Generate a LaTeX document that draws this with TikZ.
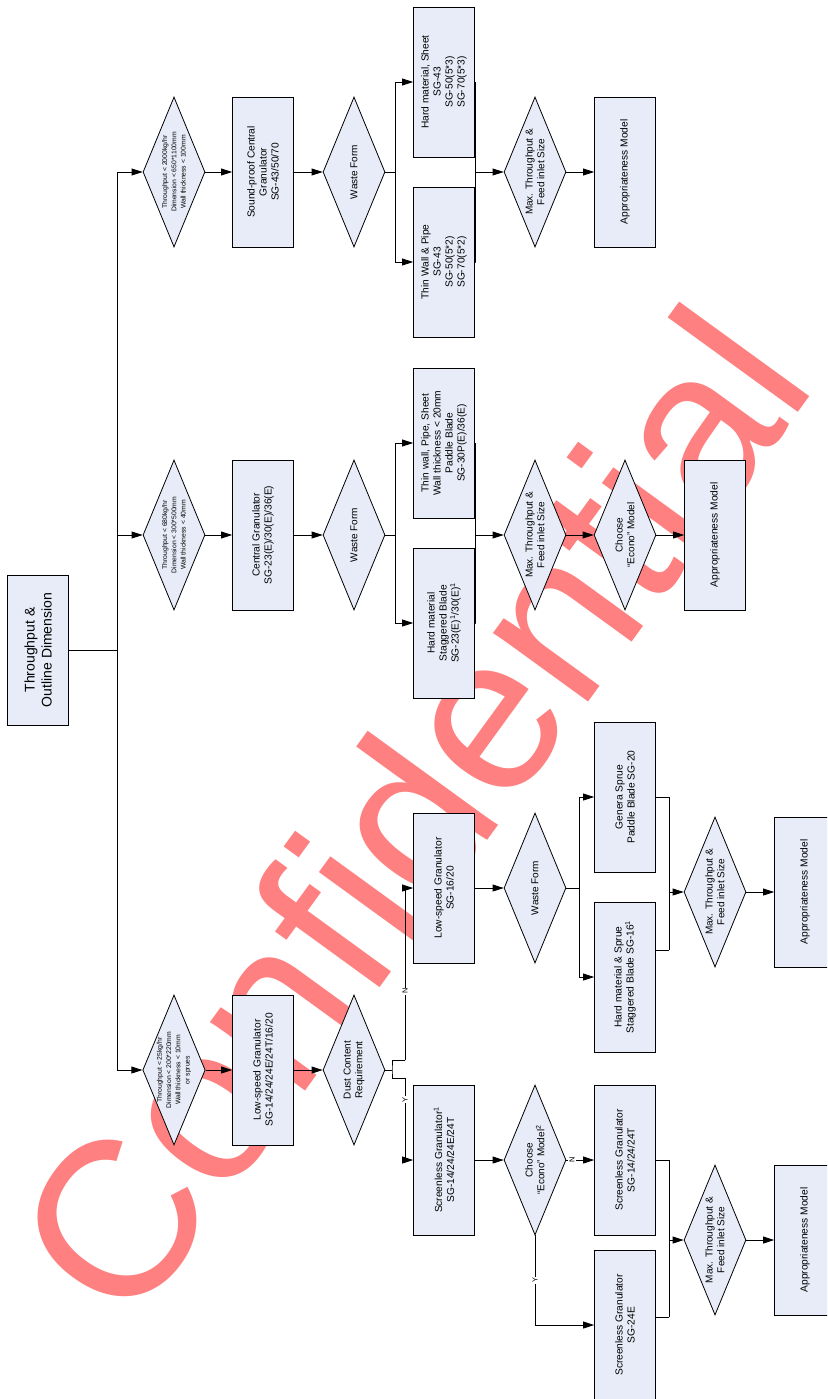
\documentclass[tikz,border=0pt]{standalone}
\usepackage{fontspec}
\setmainfont{Liberation Sans}
\usetikzlibrary{shapes.geometric,arrows.meta,positioning}
\definecolor{boxfill}{RGB}{232,236,248}
\definecolor{stampred}{RGB}{255,128,128}

\begin{document}
\begin{tikzpicture}[
    x=1pt, y=-1pt, line width=0.8pt,
    box/.style={rectangle, draw, fill=boxfill, rotate=90, align=center, minimum width=150pt, minimum height=61pt, inner sep=1pt, font=\fontsize{10.2}{12}\selectfont},
    decision/.style={diamond, draw, fill=boxfill, rotate=90, align=center, minimum width=150pt, minimum height=62pt, inner sep=-12pt, font=\fontsize{10}{11.8}\selectfont},
    smalldecision/.style={decision, font=\fontsize{6.8}{9.2}\selectfont},
    arrow/.style={->, >={Triangle[length=11pt,width=7pt]}},
    yn/.style={fill=white, inner sep=1pt, rotate=90, font=\fontsize{7.5}{7.5}\selectfont},
    stamp/.style={rotate=54, text=stampred, inner sep=0pt, font=\fontsize{222}{222}\selectfont}
  ]

  \path[use as bounding box, fill=white] (0,0) rectangle (827,1399);
  \clip (0,0) rectangle (827,1399);

  % Watermark (behind everything)
  \node[stamp] (watermark) at (410,812) {Confidential};

  % Root
  \node[box, font=\fontsize{14}{17}\selectfont] (root) at (38,650) {Throughput \&\\Outline Dimension};

  % Throughput conditions
  \node[smalldecision] (cond_2000) at (174,172) {Throughput < 2000kg/hr\\Dimension < 650*1100mm\\Wall thickness < 100mm};
  \node[smalldecision] (cond_680) at (174,535) {Throughput < 680kg/hr\\Dimension < 300*500mm\\Wall thickness < 40mm};
  \node[smalldecision] (cond_25) at (174,1070) {Throughput < 25kg/hr\\Dimension < 200*220mm\\Wall thickness < 10mm\\or sprues};

  % Granulator families
  \node[box] (sg_central_sp) at (263,172) {Sound-proof Central\\Granulator\\SG-43/50/70};
  \node[box] (sg_central) at (263,535) {Central Granulator\\SG-23(E)/30(E)/36(E)};
  \node[box] (sg_lowspeed) at (263,1070) {Low-speed Granulator\\SG-14/24/24E/24T/16/20};

  \node[decision] (waste_a) at (354,172) {Waste Form};
  \node[decision] (waste_b) at (354,535) {Waste Form};
  \node[decision] (dust) at (354,1070) {Dust Content\\Requirement};

  % Sound-proof branch
  \node[box] (hard_sheet) at (444,82) {Hard material, Sheet\\SG-43\\SG-50(5*3)\\SG-70(5*3)};
  \node[box] (thin_pipe) at (444,262) {Thin Wall \& Pipe\\SG-43\\SG-50(5*2)\\SG-70(5*2)};
  \node[decision] (max_a) at (535,172) {Max. Throughput \&\\Feed inlet Size};
  \node[box] (model_a) at (625,172) {Appropriateness Model};

  % Central branch
  \node[box] (thin_sheet) at (444,443) {Thin wall, Pipe, Sheet\\Wall thickness < 20mm\\Paddle Blade\\SG-30P(E)/36(E)};
  \node[box] (hard_stag) at (444,623) {Hard material\\Staggered Blade\\SG-23(E)\textsuperscript{1}/30(E)\textsuperscript{1}};
  \node[decision] (max_b) at (535,535) {Max. Throughput \&\\Feed inlet Size};
  \node[decision] (econo_b) at (625,535) {Choose\\“Econo” Model};
  \node[box] (model_b) at (715,535) {Appropriateness Model};

  % Low-speed branch
  \node[box] (sg_1620) at (444,888) {Low-speed Granulator\\SG-16/20};
  \node[box] (screenless) at (444,1160) {Screenless Granulator\textsuperscript{1}\\SG-14/24/24E/24T};
  \node[decision] (waste_c) at (535,888) {Waste Form};
  \node[box] (genera_sprue) at (625,797) {Genera Sprue\\Paddle Blade SG-20};
  \node[box] (hard_sprue) at (625,977) {Hard material \& Sprue\\Staggered Blade SG-16\textsuperscript{1}};
  \node[decision] (max_c) at (715,892) {Max. Throughput \&\\Feed inlet Size};
  \node[box] (model_c) at (805,892) {Appropriateness Model};

  \node[decision] (econo_c) at (535,1160) {Choose\\“Econo” Model\textsuperscript{2}};
  \node[box] (screenless_n) at (625,1160) {Screenless Granulator\\SG-14/24/24T};
  \node[box] (screenless_e) at (625,1325) {Screenless Granulator\\SG-24E};
  \node[decision] (max_d) at (715,1240) {Max. Throughput \&\\Feed inlet Size};
  \node[box] (model_d) at (805,1240) {Appropriateness Model};

  % Junction points
  \coordinate (split_root) at (117,650);
  \coordinate (split_a) at (395,172);
  \coordinate (merge_a) at (475,172);
  \coordinate (split_b) at (395,535);
  \coordinate (merge_b) at (475,535);
  \coordinate (dust_out) at (392,1070);
  \coordinate (dust_n) at (405,1060);
  \coordinate (dust_y) at (405,1078);
  \coordinate (split_c) at (579,888);
  \coordinate (merge_c) at (669,892);
  \coordinate (merge_c_low) at (669,950);
  \coordinate (merge_d) at (669,1240);
  \coordinate (merge_d_low) at (669,1317);

  % Root to conditions
  \draw (root) -- (split_root);
  \draw[arrow] (split_root) |- (cond_2000);
  \draw[arrow] (split_root) |- (cond_680);
  \draw[arrow] (split_root) |- (cond_25);

  \draw[arrow] (cond_2000) -- (sg_central_sp);
  \draw[arrow] (cond_680) -- (sg_central);
  \draw[arrow] (cond_25) -- (sg_lowspeed);
  \draw[arrow] (sg_central_sp) -- (waste_a);
  \draw[arrow] (sg_central) -- (waste_b);
  \draw[arrow] (sg_lowspeed) -- (dust);

  % Sound-proof branch
  \draw (waste_a) -- (split_a);
  \draw[arrow] (split_a) |- (hard_sheet);
  \draw[arrow] (split_a) |- (thin_pipe);
  \draw (hard_sheet) -| (merge_a);
  \draw (thin_pipe) -| (merge_a);
  \draw[arrow] (merge_a) -- (max_a);
  \draw[arrow] (max_a) -- (model_a);

  % Central branch
  \draw (waste_b) -- (split_b);
  \draw[arrow] (split_b) |- (thin_sheet);
  \draw[arrow] (split_b) |- (hard_stag);
  \draw (thin_sheet) -| (merge_b);
  \draw (hard_stag) -| (merge_b);
  \draw[arrow] (merge_b) -- (max_b);
  \draw[arrow] (max_b) -- (econo_b);
  \draw[arrow] (econo_b) -- (model_b);

  % Dust content split
  \draw (dust) -- (dust_out);
  \draw (dust_n) -| (dust_out) |- (dust_y);
  \draw[arrow] (dust_n) |- node[yn, pos=0.2] (lbl_dust_n) {N} (sg_1620);
  \draw[arrow] (dust_y) |- node[yn, pos=0.134] (lbl_dust_y) {Y} (screenless);

  % Low-speed branch
  \draw[arrow] (sg_1620) -- (waste_c);
  \draw (waste_c) -- (split_c);
  \draw[arrow] (split_c) |- (genera_sprue);
  \draw[arrow] (split_c) |- (hard_sprue);
  \draw (genera_sprue) -| (merge_c_low);
  \draw (merge_c_low) -- (merge_c_low -| hard_sprue.south);
  \draw[arrow] (merge_c) -- (max_c);
  \draw[arrow] (max_c) -- (model_c);

  % Screenless branch
  \draw[arrow] (screenless) -- (econo_c);
  \draw[arrow] (econo_c) -- node[yn, pos=0.2] (lbl_econo_n) {N} (screenless_n);
  \draw[arrow] (econo_c) |- node[yn, pos=0.25] (lbl_econo_y) {Y} (screenless_e);
  \draw (screenless_n) -| (merge_d_low);
  \draw (merge_d_low) -- (merge_d_low -| screenless_e.south);
  \draw[arrow] (merge_d) -- (max_d);
  \draw[arrow] (max_d) -- (model_d);

\end{tikzpicture}
\end{document}
